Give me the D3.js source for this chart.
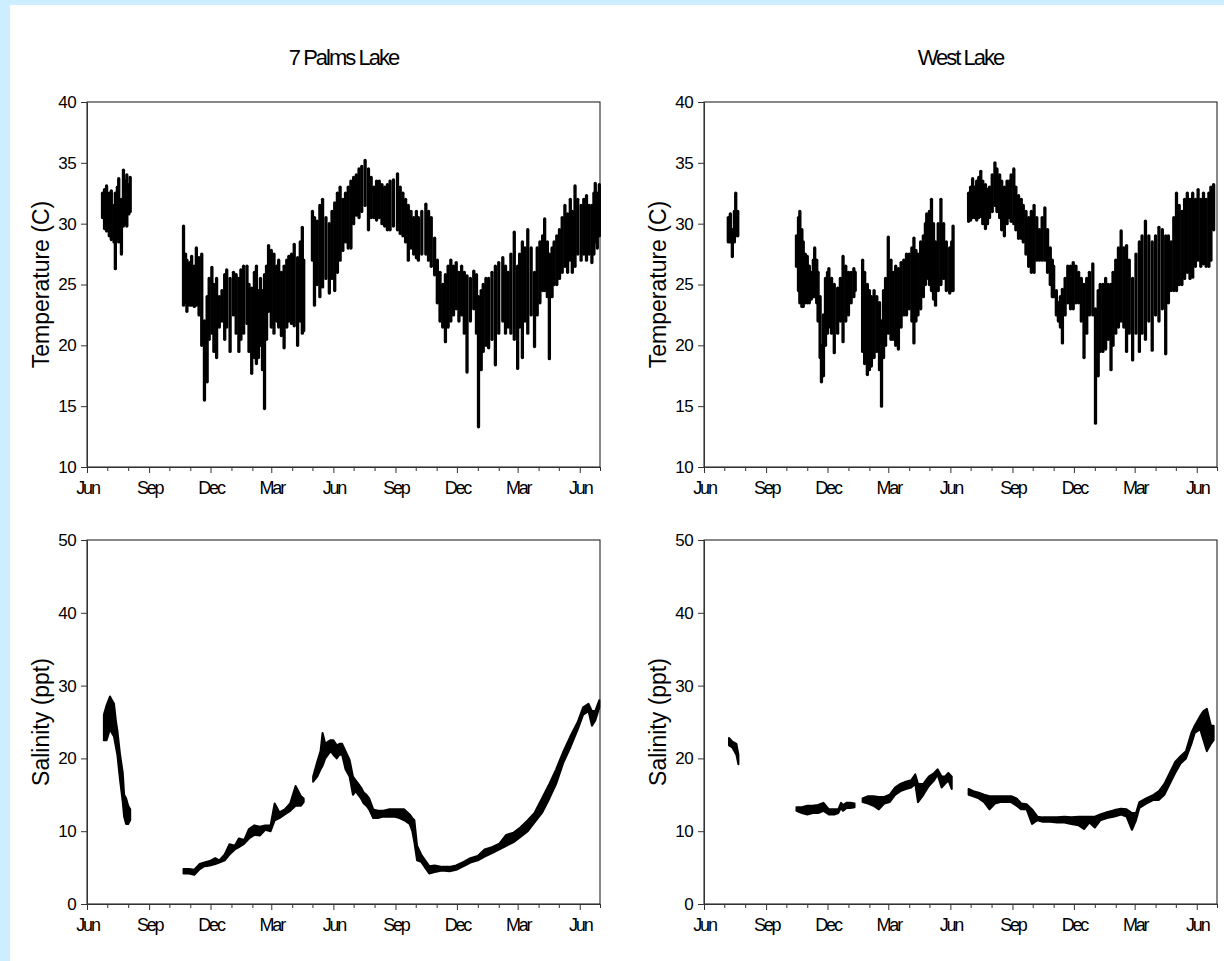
<!DOCTYPE html>
<html>
<head>
<meta charset="utf-8">
<script src="https://cdn.jsdelivr.net/npm/d3@7"></script>
<style>
  html, body { margin: 0; padding: 0; background: #fff; }
  svg { display: block; }
  text { font-family: "Liberation Sans", Arial, sans-serif; fill: #000; }
</style>
</head>
<body>
<div id="chart"></div>
<script>
// record starts Jun 1 of the first year, axis ends Jul 1 two years later
var startDate = new Date(2005, 5, 1);
var endDate = new Date(2007, 6, 1);

var lakes = ["7 Palms Lake", "West Lake"];
var tempTicks = [10, 15, 20, 25, 30, 35, 40];
var salTicks = [0, 10, 20, 30, 40, 50];
var quarterMonths = [5, 8, 11, 2]; // Jun, Sep, Dec, Mar get a label

// [day since start, low, high]
var palmsTemp = [
  [23, 30.5, 32.5], [26, 29.6, 32.8], [29, 29.4, 33.1], [33, 29.0, 32.5], [36, 28.7, 32.7],
  [40, 28.5, 31.5], [42, 26.3, 32.5], [45, 28.8, 33.0], [47, 28.5, 33.7], [51, 27.5, 32.0],
  [54, 29.8, 34.4], [57, 30.0, 33.5], [59, 29.8, 34.0], [62, 30.8, 33.2], [64, 31.0, 33.8],

  [143, 23.3, 29.8], [146, 23.5, 27.5], [148, 22.8, 27.0], [152, 23.3, 26.8], [155, 23.3, 27.3],
  [159, 23.2, 26.5], [162, 23.3, 28.0], [166, 22.5, 27.2], [170, 20.0, 27.5], [174, 15.5, 22.0],
  [178, 17.0, 24.0], [181, 20.5, 25.5], [185, 21.0, 26.4], [188, 19.5, 25.0], [192, 19.0, 25.5],
  [196, 21.5, 24.0], [200, 22.0, 24.5], [204, 20.5, 25.8], [207, 21.5, 26.2], [212, 19.5, 25.5],
  [217, 22.5, 26.0], [221, 21.0, 25.8], [225, 19.5, 25.5], [228, 20.5, 26.2], [232, 21.0, 26.5],
  [237, 21.8, 26.5], [240, 19.5, 25.0], [244, 17.7, 24.7], [248, 19.0, 26.0], [251, 18.5, 26.5],
  [254, 19.0, 24.5], [257, 20.0, 25.5], [260, 18.0, 24.5], [263, 14.8, 25.8], [266, 20.5, 26.5],
  [269, 22.8, 28.2], [273, 21.5, 27.8], [277, 21.0, 27.5], [281, 22.0, 26.5], [284, 21.5, 27.0],
  [288, 20.8, 26.0], [292, 19.8, 26.5], [296, 21.5, 27.0], [299, 22.0, 27.3], [303, 21.8, 27.5],
  [307, 21.6, 28.3], [312, 20.0, 27.2], [316, 22.0, 28.5], [319, 21.0, 29.7], [321, 21.2, 27.0],

  [334, 27.0, 31.0], [337, 23.3, 30.5], [341, 25.0, 30.2], [345, 24.0, 31.5], [349, 24.8, 32.0],
  [354, 25.5, 30.5], [359, 24.3, 30.0], [363, 25.5, 31.0], [367, 24.5, 31.7], [371, 26.0, 32.5],
  [375, 27.0, 33.0], [379, 27.8, 32.0], [383, 28.5, 32.5], [387, 28.0, 33.0], [391, 28.0, 33.5],
  [395, 30.0, 33.8], [399, 30.7, 34.0], [403, 30.5, 34.5], [407, 31.0, 34.7], [412, 31.5, 35.2],
  [417, 29.5, 34.5], [421, 30.5, 33.8], [425, 30.5, 33.0], [429, 30.3, 33.5], [433, 30.5, 33.5],
  [437, 30.0, 33.2], [441, 29.8, 33.0], [445, 29.5, 33.2], [449, 29.5, 33.5], [454, 29.8, 33.6],
  [460, 29.5, 34.1], [464, 29.2, 33.0], [468, 29.0, 32.5], [472, 28.5, 32.0], [476, 27.0, 31.5],
  [480, 28.0, 31.0], [484, 27.5, 30.5], [488, 27.2, 31.0], [491, 27.0, 30.5], [496, 27.5, 31.0],
  [502, 27.5, 31.6], [506, 27.0, 31.0], [510, 26.5, 30.5], [515, 25.8, 28.8], [519, 23.5, 27.0],
  [523, 22.0, 26.0], [527, 21.5, 25.0], [531, 20.3, 25.8], [535, 21.5, 26.5], [539, 22.0, 27.0],
  [543, 22.5, 26.5], [547, 23.0, 26.8], [551, 22.0, 26.0], [555, 22.5, 26.5], [559, 21.0, 26.0],
  [563, 17.8, 25.7], [568, 22.0, 25.5], [573, 23.0, 26.1], [577, 21.0, 25.8], [580, 13.3, 24.0],
  [584, 18.0, 24.5], [587, 19.5, 25.0], [591, 20.0, 25.5], [595, 19.8, 25.5], [600, 20.5, 26.0],
  [605, 18.4, 26.5], [610, 21.0, 26.8], [616, 22.0, 27.2], [620, 21.0, 26.5], [624, 21.5, 26.0],
  [628, 21.0, 27.5], [633, 20.5, 29.3], [638, 18.1, 26.5], [641, 21.5, 27.5], [645, 19.0, 28.5],
  [649, 22.0, 28.0], [653, 21.0, 29.5], [658, 22.5, 28.0], [663, 19.9, 26.0], [667, 22.5, 28.0],
  [671, 23.5, 28.5], [675, 24.5, 29.0], [678, 24.5, 30.4], [682, 24.0, 28.5], [685, 18.9, 27.5],
  [689, 24.0, 28.0], [692, 25.0, 28.5], [696, 25.0, 29.0], [700, 25.5, 29.5], [704, 26.0, 30.5],
  [708, 26.5, 31.5], [712, 26.0, 30.8], [716, 27.0, 32.0], [719, 26.0, 31.0], [723, 26.5, 33.1],
  [727, 27.5, 32.0], [732, 27.0, 31.5], [736, 27.5, 32.0], [740, 27.0, 32.3], [744, 27.5, 31.5],
  [748, 26.8, 31.5], [751, 27.5, 32.5], [753, 28.5, 33.3], [756, 28.0, 32.5], [759, 29.0, 33.2]
];

var westTemp = [
  [36, 28.5, 30.5], [39, 28.5, 30.8], [42, 27.3, 29.5], [45, 28.5, 31.0], [47, 29.0, 32.5],
  [50, 29.0, 31.0],

  [137, 26.5, 29.0], [140, 24.5, 30.5], [142, 23.5, 31.0], [145, 23.2, 29.5], [147, 23.2, 28.5],
  [150, 23.5, 27.5], [153, 23.5, 27.3], [156, 23.5, 26.5], [159, 23.8, 26.0], [162, 24.0, 27.0],
  [164, 24.0, 28.0], [167, 23.5, 27.0], [169, 22.0, 26.0], [172, 19.0, 24.0], [174, 17.0, 20.0],
  [177, 17.5, 22.5], [180, 20.0, 25.5], [183, 21.0, 26.0], [185, 21.5, 26.3], [189, 21.0, 25.5],
  [193, 19.4, 25.0], [198, 21.0, 24.7], [202, 22.0, 25.5], [206, 20.3, 27.3], [210, 22.0, 26.5],
  [214, 22.5, 26.0], [218, 23.5, 26.0], [222, 24.0, 26.3], [224, 24.5, 26.0],

  [235, 19.5, 27.0], [238, 18.5, 26.0], [242, 17.6, 25.0], [245, 18.0, 24.5], [248, 18.3, 24.0],
  [252, 19.0, 24.5], [256, 19.5, 24.0], [260, 18.0, 23.5], [263, 15.0, 22.0], [266, 19.0, 24.5],
  [269, 20.0, 25.5], [273, 21.0, 28.9], [277, 20.5, 27.0], [280, 20.5, 26.0], [284, 20.0, 26.5],
  [288, 19.7, 26.3], [292, 21.5, 26.8], [296, 22.5, 27.0], [300, 22.5, 27.5], [304, 23.0, 27.5],
  [308, 22.0, 28.0], [311, 20.2, 28.8], [314, 22.0, 27.8], [317, 22.5, 27.5], [321, 23.0, 28.5],
  [325, 24.0, 29.0], [328, 25.0, 30.0], [330, 25.5, 30.8], [334, 25.0, 31.0], [337, 24.5, 32.0],
  [340, 23.8, 30.0], [343, 23.3, 28.5], [347, 24.5, 30.0], [351, 25.0, 32.0], [355, 25.5, 30.0],
  [359, 24.5, 28.5], [364, 24.3, 28.0], [367, 24.5, 28.5], [369, 24.5, 29.8],

  [392, 30.2, 32.5], [395, 30.3, 33.0], [398, 30.5, 33.7], [401, 30.5, 33.0], [404, 30.3, 33.5],
  [407, 30.5, 33.8], [410, 30.6, 34.3], [413, 30.0, 33.5], [417, 29.6, 33.2], [420, 30.0, 32.8],
  [423, 30.5, 33.0], [427, 31.0, 34.0], [431, 31.5, 35.0], [434, 31.0, 34.5], [438, 30.5, 34.0],
  [441, 29.5, 33.5], [445, 29.0, 33.0], [449, 30.0, 33.5], [452, 30.5, 33.5], [455, 30.2, 34.0],
  [459, 30.0, 34.5], [462, 29.5, 33.0], [466, 28.8, 32.3], [470, 28.8, 32.0], [473, 28.5, 31.5],
  [477, 27.5, 31.0], [481, 26.5, 30.5], [485, 26.0, 31.0], [489, 26.0, 31.5], [493, 27.0, 30.5],
  [497, 27.0, 29.5], [501, 27.0, 30.5], [505, 27.0, 31.3], [509, 26.0, 29.5], [513, 25.0, 28.0],
  [516, 24.0, 27.0], [518, 24.0, 26.5], [522, 22.5, 24.5], [525, 22.0, 23.5], [528, 21.5, 24.0],
  [531, 20.2, 24.6], [535, 22.5, 25.5], [539, 23.5, 26.5], [543, 23.0, 26.5], [547, 23.0, 26.8],
  [551, 23.5, 26.5], [555, 23.5, 26.0], [559, 22.0, 25.5], [563, 19.0, 25.0], [567, 21.0, 25.5],
  [571, 22.5, 26.0], [576, 22.5, 26.7], [580, 13.6, 23.0], [584, 17.5, 24.5], [587, 19.5, 25.0],
  [591, 19.5, 25.0], [595, 19.7, 25.5], [599, 20.5, 25.0], [603, 18.0, 25.0], [606, 20.0, 26.0],
  [610, 21.0, 27.0], [614, 21.5, 28.0], [618, 22.0, 29.4], [622, 21.5, 28.0], [626, 19.5, 28.2],
  [630, 21.0, 27.0], [635, 18.8, 25.5], [640, 21.0, 27.5], [645, 19.5, 28.5], [649, 21.0, 29.0],
  [654, 20.5, 30.2], [659, 22.0, 29.0], [664, 19.6, 28.5], [669, 22.5, 29.0], [674, 22.0, 29.7],
  [679, 23.0, 29.5], [684, 19.3, 29.0], [688, 23.5, 29.0], [692, 24.5, 28.5], [696, 24.5, 30.5],
  [700, 24.5, 32.5], [704, 25.0, 31.5], [708, 25.0, 31.0], [712, 25.5, 32.0], [716, 26.0, 32.5],
  [720, 25.5, 32.0], [724, 25.6, 32.5], [728, 26.5, 32.0], [732, 27.0, 32.8], [736, 26.5, 32.0],
  [740, 26.7, 32.5], [744, 26.5, 32.0], [748, 26.5, 32.5], [751, 27.0, 33.0], [755, 29.5, 33.2]
];

var palmsSal = [
  [25, 22.5, 26.0], [29, 22.5, 27.3], [34, 24.0, 28.5], [37, 23.5, 28.0], [40, 23.0, 27.5],
  [43, 21.5, 25.0], [45, 20.5, 23.8], [49, 17.0, 20.5], [53, 14.0, 18.0], [55, 12.0, 15.0],
  [58, 11.0, 14.5], [61, 11.0, 13.5], [64, 11.5, 13.0],

  [143, 4.2, 4.8], [151, 4.2, 4.8], [159, 4.0, 4.7], [167, 4.8, 5.5], [174, 5.2, 5.7],
  [182, 5.3, 5.9], [190, 5.5, 6.3], [196, 5.7, 6.0], [204, 6.0, 6.8], [211, 6.8, 8.2],
  [219, 7.5, 8.0], [225, 7.8, 9.0], [233, 8.3, 8.8], [240, 9.0, 10.3], [248, 9.5, 10.8],
  [256, 9.4, 10.6], [264, 10.2, 10.8], [272, 10.0, 10.8], [278, 11.5, 13.8], [285, 11.8, 12.6],
  [293, 12.3, 13.0], [301, 12.8, 13.8], [309, 13.5, 16.2], [317, 13.5, 14.8], [321, 14.0, 14.5],

  [335, 16.8, 17.5], [341, 17.5, 19.5], [346, 18.5, 21.0], [349, 19.0, 23.5], [353, 20.0, 22.0],
  [357, 20.5, 22.3], [361, 21.0, 22.5], [365, 20.5, 22.5], [370, 20.0, 21.8], [374, 20.5, 22.0],
  [378, 20.5, 22.0], [383, 18.5, 21.0], [389, 17.5, 19.8], [394, 15.0, 17.5], [398, 15.5, 17.0],
  [402, 15.0, 16.5], [406, 14.5, 16.0], [410, 13.8, 15.3], [414, 13.5, 15.0], [418, 13.0, 14.5],
  [424, 11.8, 13.0], [431, 11.8, 12.8], [439, 12.0, 12.8], [447, 12.0, 13.0], [455, 12.0, 13.0],
  [463, 11.8, 13.0], [470, 11.5, 13.0], [478, 11.0, 12.3], [482, 10.0, 11.8], [485, 8.5, 11.5],
  [489, 6.0, 8.0], [495, 5.8, 6.8], [501, 5.0, 6.0], [507, 4.2, 5.2], [515, 4.4, 5.3],
  [526, 4.6, 5.1], [537, 4.5, 5.1], [547, 4.7, 5.3], [558, 5.2, 5.8], [568, 5.7, 6.3],
  [579, 6.0, 6.6], [589, 6.5, 7.5], [600, 7.0, 7.8], [611, 7.5, 8.3], [621, 8.0, 9.5],
  [632, 8.5, 9.8], [642, 9.2, 10.5], [653, 10.0, 11.5], [663, 11.2, 12.5], [674, 12.5, 14.5],
  [685, 14.5, 16.5], [695, 16.5, 18.5], [706, 19.5, 21.0], [716, 21.5, 23.0], [727, 24.0, 25.0],
  [735, 26.0, 27.0], [743, 26.5, 27.5], [748, 24.5, 26.5], [753, 25.2, 26.5], [759, 27.0, 28.0]
];

var westSal = [
  [37, 21.8, 22.8], [42, 21.5, 22.3], [48, 20.5, 22.0], [51, 19.2, 20.5],

  [137, 12.8, 13.3], [145, 12.5, 13.3], [153, 12.3, 13.5], [161, 12.5, 13.5], [169, 12.5, 13.6],
  [177, 12.8, 13.9], [185, 12.3, 13.0], [193, 12.3, 13.0], [199, 12.5, 13.0],
  [203, 13.2, 13.9], [206, 12.8, 13.6], [211, 13.2, 13.9], [217, 13.2, 13.9], [223, 13.3, 13.8],

  [235, 14.0, 14.5], [243, 13.8, 14.8], [251, 13.5, 14.8], [259, 13.0, 14.7], [267, 13.8, 14.7],
  [275, 14.0, 15.0], [283, 15.0, 16.0], [291, 15.5, 16.5], [299, 15.8, 16.8], [307, 16.0, 17.0],
  [313, 16.5, 17.8], [317, 14.0, 16.5], [325, 15.0, 16.5], [333, 16.2, 17.5], [341, 17.0, 18.0],
  [346, 17.8, 18.5], [352, 16.0, 17.5], [357, 16.5, 17.5], [362, 17.0, 18.0], [367, 15.8, 17.5],

  [392, 15.0, 15.8], [399, 14.8, 15.5], [407, 14.5, 15.3], [415, 14.0, 15.0], [423, 13.0, 14.8],
  [431, 13.8, 14.8], [439, 14.0, 14.8], [447, 14.0, 14.8], [455, 14.0, 14.8], [463, 13.5, 14.5],
  [470, 13.0, 13.8], [478, 13.0, 13.7], [486, 11.0, 13.0], [494, 11.5, 12.0], [502, 11.3, 11.9],
  [513, 11.3, 11.9], [523, 11.2, 11.9], [534, 11.2, 12.0], [544, 11.0, 11.9], [555, 10.8, 12.0],
  [563, 10.3, 12.0], [571, 11.2, 12.0], [579, 10.5, 12.0], [587, 11.5, 12.3], [597, 11.8, 12.6],
  [608, 12.0, 12.9], [618, 12.3, 13.1], [626, 12.0, 13.0], [634, 10.2, 12.5], [640, 11.5, 12.5],
  [645, 13.2, 14.0], [655, 13.8, 14.5], [666, 14.3, 15.0], [674, 14.3, 15.5], [682, 15.0, 16.5],
  [690, 16.5, 18.0], [698, 18.0, 19.5], [706, 19.3, 20.3], [714, 20.0, 21.0], [722, 22.0, 23.5],
  [727, 23.5, 24.5], [735, 24.0, 25.8], [740, 22.5, 26.5], [745, 21.0, 26.8], [751, 22.0, 24.5],
  [755, 22.5, 24.5]
];

var W = 1224, H = 961;
var plotW = 513;
var cols = [87, 704];
var rows = [{ top: 102, h: 365 }, { top: 540, h: 364 }];
var maxStep = 11.5; // days; a longer step means the logger was out

var panels = [
  { col: 0, row: 0, data: palmsTemp, domain: [10, 40], ticks: tempTicks, label: "Temperature (C)", kind: "temp" },
  { col: 1, row: 0, data: westTemp, domain: [10, 40], ticks: tempTicks, label: "Temperature (C)", kind: "temp" },
  { col: 0, row: 1, data: palmsSal, domain: [0, 50], ticks: salTicks, label: "Salinity (ppt)", kind: "sal" },
  { col: 1, row: 1, data: westSal, domain: [0, 50], ticks: salTicks, label: "Salinity (ppt)", kind: "sal" }
];

var svg = d3.select("#chart").append("svg")
  .attr("width", W)
  .attr("height", H);

svg.append("rect").attr("width", W).attr("height", H).attr("fill", "#fff");
svg.append("rect").attr("width", W).attr("height", 5).attr("fill", "#cdeefe");
svg.append("rect").attr("width", 10).attr("height", H).attr("fill", "#cdeefe");

lakes.forEach(function (name, i) {
  svg.append("text")
    .attr("x", cols[i] + plotW / 2)
    .attr("y", 65)
    .attr("text-anchor", "middle")
    .style("font-size", "22px")
    .style("letter-spacing", "-2px")
    .text(name);
});

function splitRuns(rows) {
  var runs = [], cur = [];
  rows.forEach(function (r, i) {
    if (i > 0 && r[0] - rows[i - 1][0] > maxStep) {
      runs.push(cur);
      cur = [];
    }
    cur.push(r);
  });
  if (cur.length) runs.push(cur);
  return runs;
}

panels.forEach(function (p) {
  var r = rows[p.row];
  var g = svg.append("g").attr("transform", "translate(" + cols[p.col] + "," + r.top + ")");

  var x = d3.scaleTime().domain([startDate, endDate]).range([0, plotW]);
  var y = d3.scaleLinear().domain(p.domain).range([r.h, 0]);
  var day = function (d) { return x(d3.timeDay.offset(startDate, d[0])); };

  // frame
  g.append("rect")
    .attr("width", plotW)
    .attr("height", r.h)
    .attr("fill", "none")
    .attr("stroke", "#111")
    .attr("stroke-width", 1);

  var marks = g.append("g");
  if (p.kind === "temp") {
    marks.selectAll("line")
      .data(p.data)
      .enter()
      .append("line")
      .attr("x1", day)
      .attr("x2", day)
      .attr("y1", function (d) { return y(d[1]); })
      .attr("y2", function (d) { return y(d[2]); })
      .attr("stroke", "#000")
      .attr("stroke-width", 3.3)
      .attr("stroke-linecap", "round");
  } else {
    var area = d3.area()
      .x(day)
      .y0(function (d) { return y(d[1]); })
      .y1(function (d) { return y(d[2]); });
    marks.selectAll("path")
      .data(splitRuns(p.data))
      .enter()
      .append("path")
      .attr("d", area)
      .attr("fill", "#000")
      .attr("stroke", "#000")
      .attr("stroke-width", 2)
      .attr("stroke-linejoin", "round");
  }

  var yAxis = g.append("g")
    .call(d3.axisLeft(y).tickValues(p.ticks).tickSize(6).tickPadding(5).tickSizeOuter(0));
  yAxis.selectAll("text").style("font-size", "17px").style("letter-spacing", "-0.6px");

  var xAxis = g.append("g")
    .attr("transform", "translate(0," + r.h + ")")
    .call(d3.axisBottom(x)
      .ticks(d3.timeMonth.every(1))
      .tickSizeInner(6)
      .tickSizeOuter(0)
      .tickPadding(8)
      .tickFormat(function (d) {
        return quarterMonths.indexOf(d.getMonth()) >= 0 ? d3.timeFormat("%b")(d) : "";
      }));
  xAxis.selectAll(".tick line")
    .attr("y2", function (d) { return quarterMonths.indexOf(d.getMonth()) >= 0 ? 6 : 4; });
  xAxis.selectAll("text").style("font-size", "18px").style("letter-spacing", "-2.2px");

  svg.selectAll(".domain").attr("stroke", "#333");
  svg.selectAll(".tick line").attr("stroke", "#333");

  g.append("text")
    .attr("transform", "translate(" + (-38) + "," + r.h / 2 + ") rotate(-90)")
    .attr("text-anchor", "middle")
    .style("font-size", "23px")
    .text(p.label);
});
</script>
</body>
</html>
